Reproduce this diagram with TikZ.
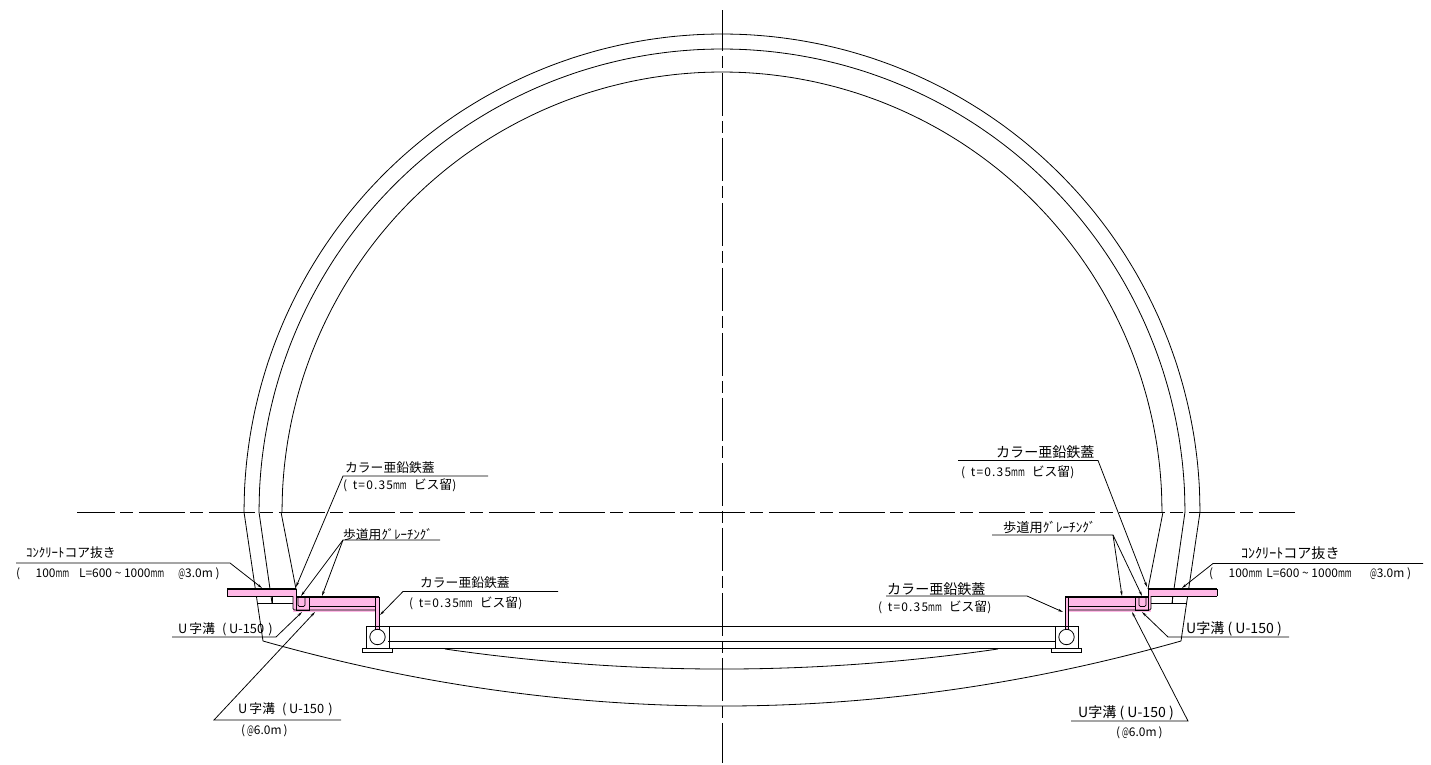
\documentclass[tikz,border=0pt]{standalone}
\usepackage{fontspec}
\setmainfont{Noto Sans CJK JP}
\usetikzlibrary{arrows.meta}
\definecolor{capPink}{RGB}{255,184,230}
\newcommand{\mmu}{\scalebox{.62}[1]{mm}}
\newcommand{\atm}{\scalebox{.6}[1]{@}}
\newcommand{\capnote}{(\hspace{8pt}{\addfontfeature{LetterSpace=10}t=0.35}\mmu\hspace{10pt}{\fontsize{18.2}{20}\selectfont ビス留})}
\newcommand{\ditchname}{U\,字溝\hspace{10pt}(\hspace{4pt}U-150\hspace{6pt})}
\tikzset{
	wall/.style={line width=1.15pt},
	heavy/.style={line width=1.6pt},
	leader/.style={line width=1.1pt,{Stealth[length=7pt,width=3.5pt]}-},
	lblL/.style={anchor=west,inner sep=0pt,font=\fontsize{18.2}{20}\selectfont},
	lblR/.style={anchor=west,inner sep=0pt,font=\fontsize{20}{22}\selectfont},
	lblS/.style={anchor=west,inner sep=0pt,font=\fontsize{17}{19}\selectfont},
	centreH/.style={line width=1.15pt,dash pattern=on 2.3cm off 0.275cm on 0.65cm off 0.275cm,dash phase=0.4cm},
	centreV/.style={line width=1.15pt,dash pattern=on 2.15cm off 0.25cm on 0.625cm off 0.225cm,dash phase=0.1cm}
}

\begin{document}
\begin{tikzpicture}[y=-0.05cm, x=0.05cm]
\useasboundingbox (0,0) rectangle (1431,765);

% lining arcs
\foreach \r in {478,463,440}
	\draw[wall] plot [smooth,domain=0:180,samples=61] ({722+\r*cos(\x)},{512-\r*sin(\x)});

% walls below springing line
\draw[wall] (244,512) -- (263,641);
\draw[wall] (1200,512) -- (1181,641);
\draw[wall] (259,512) -- (272,603);
\draw[wall] (1185,512) -- (1172,603);
\draw[wall] (281,512) -- (296,589);
\draw[wall] (1163,512) -- (1148,589);

% invert
\draw[wall] (263,641) .. controls (569,727.7) and (875,727.7) .. (1181,641);
\draw[wall] (445,649) .. controls (630,675.7) and (814,675.7) .. (998,649);

% slab
\draw[wall] (388,626) -- (1055,626);
\draw[wall] (388,641) -- (1055,641);
\draw[wall] (388,648.5) -- (1055,648.5);

% sidewalk, both sides
\foreach \side in {1,-1}{
\begin{scope}[shift={(722,0)},xscale=\side]
	\fill[capPink] (-495,589) rectangle (-426,596);
	\fill[capPink] (-429,589) rectangle (-426,611);
	\fill[capPink] (-429,607) rectangle (-343,611.5);
	\fill[capPink] (-426,597) rectangle (-345,608);
	\fill[capPink] (-346.5,597) rectangle (-342.7,630);
	\draw[wall] (-495,596) -- (-495,589);
	\draw[heavy] (-495,589) -- (-426,589);
	\draw[wall] (-495,596) -- (-429,596);
	\draw[wall] (-465,603) -- (-429,603);
	\draw[wall] (-450,603) -- (-450,596);
	\draw[wall] (-426,589) -- (-426,597);
	\draw[heavy] (-426,597) -- (-343,597);
	\draw[wall,rounded corners=2pt] (-429,596) -- (-429,610) -- (-346.5,610);
	\draw[wall] (-426,596) rectangle (-413,610);
	\draw[wall,rounded corners=2pt] (-424,597) -- (-424,606.5) -- (-417,606.5) -- (-417,597);
	\draw[wall] (-413,606) -- (-346.5,606);
	\draw[wall] (-346.5,597) -- (-346.5,630);
	\draw[line width=0.6pt] (-342.7,597) -- (-342.7,630);
	\draw[wall] (-356,626) rectangle (-333,648);
	\draw[wall] (-344.5,637) circle [radius=7.7];
	\draw[wall] (-359.5,648) rectangle (-329.5,652);
\end{scope}
}

% centre lines
\coordinate (hLeft) at (77,512);
\coordinate (hRight) at (1295,512);
\draw[centreH] (hLeft) -- (hRight);
\coordinate (vTop) at (722,10);
\coordinate (vBottom) at (722,763);
\draw[centreV] (vTop) -- (vBottom);

% labels, left
\node[lblL] (capLa) at (345,468) {カラー亜鉛鉄蓋};
\node[lblS] (capLb) at (343,485) {\capnote};
\node[lblL] (gratL) at (343,535) {歩道用ｸﾞﾚｰﾁﾝｸﾞ};
\node[lblL] (capMa) at (420,583) {カラー亜鉛鉄蓋};
\node[lblS] (capMb) at (409,603) {\capnote};
\node[lblL] (coreLa) at (26,553) {ｺﾝｸﾘｰﾄコア抜き};
\node[lblS] (coreLb) at (16,574) {(\hspace{22pt}100\mmu\hspace{14pt}L=600 \textasciitilde{} 1000\mmu\hspace{20pt}\atm 3.0m )};
\node[lblL] (ditchLa) at (178,629) {\ditchname};
\node[lblL] (ditchLb) at (238,709) {\ditchname};
\node[lblS] (ditchLc) at (241,731) {(\,\atm 6.0m\,)};

% labels, right
\node[lblR] (capRa) at (996,452) {カラー亜鉛鉄蓋};
\node[lblS] (capRb) at (961,472) {\capnote};
\node[lblL,font=\fontsize{18.8}{20}\selectfont] (gratR) at (1003,527) {歩道用ｸﾞﾚｰﾁﾝｸﾞ};
\node[lblR] (capNa) at (887,589) {カラー亜鉛鉄蓋};
\node[lblS] (capNb) at (878,607) {\capnote};
\node[lblR] (coreRa) at (1241,553) {ｺﾝｸﾘｰﾄコア抜き};
\node[lblS] (coreRb) at (1209,574) {(\hspace{22pt}100\mmu\hspace{6pt}L=600 \textasciitilde{} 1000\mmu\hspace{26pt}\atm 3.0m )};
\node[lblR] (ditchRa) at (1186,629) {U字溝 ( U-150 )};
\node[lblR] (ditchRb) at (1078,713) {U字溝 ( U-150 )};
\node[lblS] (ditchRc) at (1116,733) {(\,\atm 6.0m\,)};

% leaders, left
\coordinate (capLx) at (343,476);
\coordinate (capLy) at (488,476);
\coordinate (capLt) at (296,587);
\draw[leader] (capLt) -- (capLx) -- (capLy);
\coordinate (gratLx) at (343,540);
\coordinate (gratLy) at (440,540);
\coordinate (gratLs) at (301,596);
\coordinate (gratLt) at (322,596);
\draw[leader] (gratLs) -- (gratLx) -- (gratLy);
\draw[leader] (gratLt) -- (gratLx);
\coordinate (capMx) at (403,591.5);
\coordinate (capMy) at (558,591.5);
\coordinate (capMt) at (380,615);
\draw[leader] (capMt) -- (capMx) -- (capMy);
\coordinate (coreLx) at (230,563);
\coordinate (coreLy) at (16,563);
\coordinate (coreLt) at (262,588);
\draw[leader] (coreLt) -- (coreLx) -- (coreLy);
\coordinate (ditchLx) at (276,637);
\coordinate (ditchLy) at (172,637);
\coordinate (ditchLt) at (302,612);
\draw[leader] (ditchLt) -- (ditchLx) -- (ditchLy);
\coordinate (ditchMx) at (214,720);
\coordinate (ditchMy) at (341,720);
\coordinate (ditchMt) at (315,612);
\draw[leader] (ditchMt) -- (ditchMx) -- (ditchMy);

% leaders, right
\coordinate (capRx) at (1098,460.5);
\coordinate (capRy) at (958,460.5);
\coordinate (capRt) at (1147,587);
\draw[leader] (capRt) -- (capRx) -- (capRy);
\coordinate (gratRx) at (1113,535);
\coordinate (gratRy) at (992,535);
\coordinate (gratRs) at (1142,596);
\coordinate (gratRt) at (1122,596);
\draw[leader] (gratRs) -- (gratRx) -- (gratRy);
\draw[leader] (gratRt) -- (gratRx);
\coordinate (capNx) at (1027,596);
\coordinate (capNy) at (886,596);
\coordinate (capNt) at (1063,612);
\draw[leader] (capNt) -- (capNx) -- (capNy);
\coordinate (coreRx) at (1213,563.5);
\coordinate (coreRy) at (1423,563.5);
\coordinate (coreRt) at (1182,588);
\draw[leader] (coreRt) -- (coreRx) -- (coreRy);
\coordinate (ditchRx) at (1168,637);
\coordinate (ditchRy) at (1289,637);
\coordinate (ditchRt) at (1142,612);
\draw[leader] (ditchRt) -- (ditchRx) -- (ditchRy);
\coordinate (ditchSx) at (1188,721);
\coordinate (ditchSy) at (1071,721);
\coordinate (ditchSt) at (1132,612);
\draw[leader] (ditchSt) -- (ditchSx) -- (ditchSy);

\end{tikzpicture}
\end{document}
